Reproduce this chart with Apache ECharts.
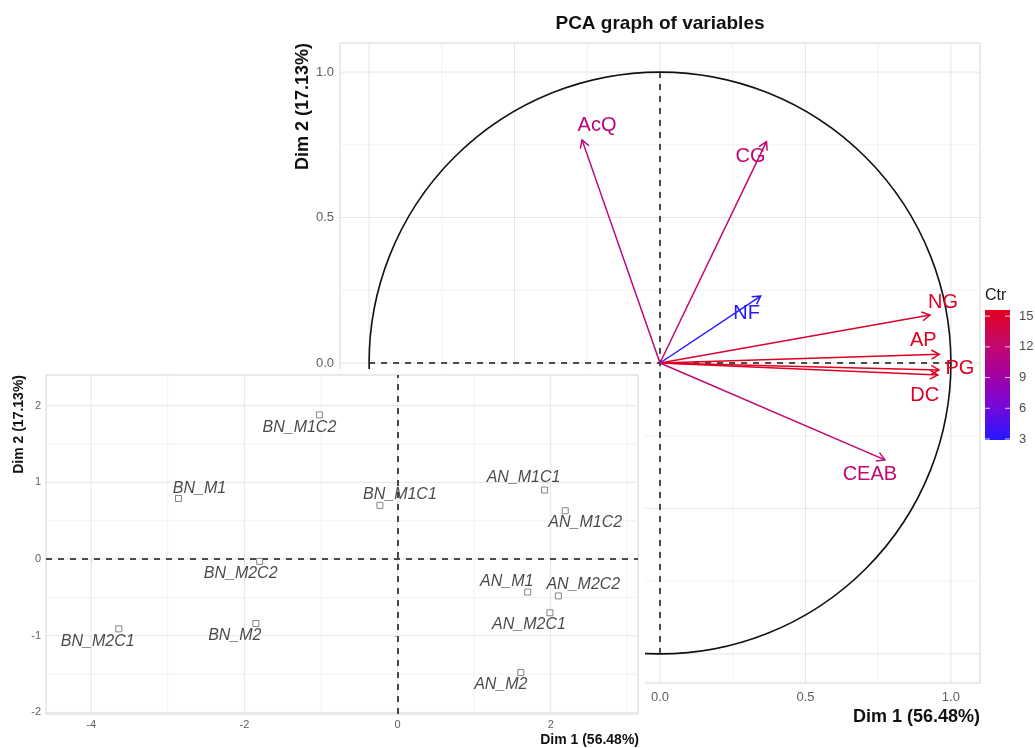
<!DOCTYPE html>
<html>
<head>
<meta charset="utf-8">
<script src="https://cdn.jsdelivr.net/npm/echarts@6.0.0/dist/echarts.min.js"></script>
<style>
  html, body { margin: 0; padding: 0; background: #fff; }
  #chart { width: 1035px; height: 748px; }
</style>
</head>
<body>
<div id="chart"></div>
<script>
// variables (correlation circle)
const varNames = ['AcQ', 'CG', 'NF', 'NG', 'AP', 'PG', 'DC', 'CEAB'];
const varDim1 = [-0.268, 0.366, 0.346, 0.928, 0.960, 0.959, 0.955, 0.773];
const varDim2 = [0.767, 0.761, 0.230, 0.165, 0.030, -0.024, -0.041, -0.333];
const varCtr = [11.2, 12.1, 2.9, 15.0, 15.6, 15.5, 15.4, 12.0];

// individuals (inset)
const indNames = ['BN_M1C2', 'BN_M1', 'BN_M1C1', 'AN_M1C1', 'AN_M1C2', 'BN_M2C2',
  'AN_M1', 'AN_M2C2', 'AN_M2C1', 'BN_M2C1', 'BN_M2', 'AN_M2'];
const indDim1 = [-1.02, -2.86, -0.23, 1.92, 2.19, -1.80, 1.70, 2.10, 1.99, -3.64, -1.85, 1.61];
const indDim2 = [1.88, 0.79, 0.70, 0.90, 0.63, -0.03, -0.43, -0.48, -0.70, -0.91, -0.84, -1.48];

// ticks
const mainTicks = [-1, -0.5, 0, 0.5, 1];
const mainMinor = [-0.75, -0.25, 0.25, 0.75];
const insetXTicks = [-4, -2, 0, 2];
const insetXMinor = [-3, -1, 1, 3];
const insetYTicks = [-2, -1, 0, 1, 2];
const insetYMinor = [-1.5, -0.5, 0.5, 1.5];
const ctrTicks = [3, 6, 9, 12, 15];
const ctrMin = 2.9, ctrMax = 15.6;

// styling (label nudges in px, like ggrepel did)
const varLabelOffset = [[15, -14], [-16, 15], [-14, 17], [13, -13], [-16, -14], [21, -1], [-13, 21], [-15, 15]];
const indLabelOffset = [[-20, 13], [21, -10], [20, -11], [-21, -12], [20, 12], [-19, 12],
  [-21, -11], [25, -11], [-21, 12], [-21, 13], [-21, 12], [-20, 12]];
const ctrColors = ['#2418ff', '#7408dc', '#a400a2', '#c60a68', '#e0001e'];
const FONT = '"Liberation Sans", Arial, sans-serif';

const chart = echarts.init(document.getElementById('chart'));

function gridLines(values, vertical, idx, color, z) {
  return {
    type: 'custom', xAxisIndex: idx, yAxisIndex: idx, z: z, silent: true, clip: false,
    data: values.map(v => vertical ? [v, 0] : [0, v]),
    renderItem: function (params, api) {
      const cs = params.coordSys;
      const p = api.coord([api.value(0), api.value(1)]);
      const shape = vertical
        ? { x1: p[0], y1: cs.y, x2: p[0], y2: cs.y + cs.height }
        : { x1: cs.x, y1: p[1], x2: cs.x + cs.width, y2: p[1] };
      return { type: 'line', shape: shape, style: { stroke: color, lineWidth: 1 } };
    }
  };
}

function renderArrow(params, api) {
  const i = params.dataIndex;
  const o = api.coord([0, 0]);
  const p = api.coord([api.value(0), api.value(1)]);
  const color = api.visual('color');
  const ang = Math.atan2(p[1] - o[1], p[0] - o[0]);
  const h = 9, a = Math.PI / 6;
  const l = [p[0] - h * Math.cos(ang - a), p[1] - h * Math.sin(ang - a)];
  const r = [p[0] - h * Math.cos(ang + a), p[1] - h * Math.sin(ang + a)];
  const off = varLabelOffset[i];
  return {
    type: 'group',
    children: [
      { type: 'line', shape: { x1: o[0], y1: o[1], x2: p[0], y2: p[1] }, style: { stroke: color, lineWidth: 1.5 } },
      { type: 'polyline', shape: { points: [l, p, r] }, style: { stroke: color, fill: null, lineWidth: 1.5 } },
      {
        type: 'text', x: p[0] + off[0], y: p[1] + off[1],
        style: { text: varNames[i], fill: color, fontSize: 20, fontFamily: FONT, align: 'center', verticalAlign: 'middle' }
      }
    ]
  };
}

const axisLbl = (size, margin, fmt) => ({ color: '#606060', fontSize: size, fontFamily: FONT, margin: margin, formatter: fmt });
const fmt1 = v => (+v).toFixed(1);
const fmt0 = v => String(Math.round(v));

// legend (colour bar) built with graphic
const barX = 985, barY = 310, barW = 25, barH = 130;
const yOfCtr = v => barY + barH - (v - ctrMin) / (ctrMax - ctrMin) * barH;
const legendEls = [
  { type: 'text', x: barX, y: 296, style: { text: 'Ctr', fontSize: 16, fontFamily: FONT, fill: '#1a1a1a', verticalAlign: 'middle' } },
  {
    type: 'rect', shape: { x: barX, y: barY, width: barW, height: barH },
    style: {
      fill: {
        type: 'linear', x: 0, y: 1, x2: 0, y2: 0,
        colorStops: ctrColors.map((c, k) => ({ offset: k / (ctrColors.length - 1), color: c }))
      }
    }
  }
];
ctrTicks.forEach(v => {
  const y = yOfCtr(v);
  legendEls.push({ type: 'line', shape: { x1: barX, y1: y, x2: barX + 5, y2: y }, style: { stroke: 'rgba(255,255,255,0.8)', lineWidth: 1 } });
  legendEls.push({ type: 'line', shape: { x1: barX + barW - 5, y1: y, x2: barX + barW, y2: y }, style: { stroke: 'rgba(255,255,255,0.8)', lineWidth: 1 } });
  legendEls.push({ type: 'text', x: barX + barW + 9, y: y, style: { text: String(v), fontSize: 13, fontFamily: FONT, fill: '#4d4d4d', verticalAlign: 'middle' } });
});

const option = {
  animation: false,
  backgroundColor: '#fff',
  grid: [
    { left: 340, top: 43, width: 640, height: 640, show: true, backgroundColor: '#fff', borderColor: '#d4d4d4', borderWidth: 1 },
    { left: 46, top: 375, width: 592, height: 339, show: true, backgroundColor: '#fff', borderColor: '#d4d4d4', borderWidth: 1, z: 21 }
  ],
  xAxis: [
    {
      type: 'value', gridIndex: 0, min: -1.1, max: 1.1,
      axisLine: { show: false }, splitLine: { show: false },
      axisTick: { show: true, length: 4, customValues: mainTicks, lineStyle: { color: '#aaa' } },
      axisLabel: Object.assign(axisLbl(13, 8, fmt1), { customValues: mainTicks })
    },
    {
      type: 'value', gridIndex: 1, min: -4.59, max: 3.14, z: 22,
      axisLine: { show: false }, splitLine: { show: false },
      axisTick: { show: true, length: 3, customValues: insetXTicks, lineStyle: { color: '#aaa' } },
      axisLabel: Object.assign(axisLbl(11, 5, fmt0), { customValues: insetXTicks })
    }
  ],
  yAxis: [
    {
      type: 'value', gridIndex: 0, min: -1.1, max: 1.1,
      axisLine: { show: false }, splitLine: { show: false },
      axisTick: { show: true, length: 4, customValues: mainTicks, lineStyle: { color: '#aaa' } },
      axisLabel: Object.assign(axisLbl(13, 6, fmt1), { customValues: mainTicks })
    },
    {
      type: 'value', gridIndex: 1, min: -2.02, max: 2.4, z: 22,
      axisLine: { show: false }, splitLine: { show: false },
      axisTick: { show: true, length: 3, customValues: insetYTicks, lineStyle: { color: '#aaa' } },
      axisLabel: Object.assign(axisLbl(11, 5, fmt0), { customValues: insetYTicks })
    }
  ],
  visualMap: {
    type: 'continuous', show: false, seriesIndex: 6, dimension: 2,
    min: ctrMin, max: ctrMax, inRange: { color: ctrColors }
  },
  graphic: {
    elements: [
      {
        type: 'text', x: 660, y: 24,
        style: { text: 'PCA graph of variables', fontSize: 19, fontWeight: 'bold', fontFamily: FONT, fill: '#111', align: 'center', verticalAlign: 'middle' }
      },
      {
        type: 'text', x: 980, y: 717,
        style: { text: 'Dim 1 (56.48%)', fontSize: 18, fontWeight: 'bold', fontFamily: FONT, fill: '#111', align: 'right', verticalAlign: 'middle' }
      },
      {
        type: 'text', x: 303, y: 43, rotation: Math.PI / 2,
        style: { text: 'Dim 2 (17.13%)', fontSize: 18, fontWeight: 'bold', fontFamily: FONT, fill: '#111', align: 'right', verticalAlign: 'middle' }
      },
      { type: 'group', children: legendEls },
      // white card behind the inset
      { type: 'rect', z: 20, shape: { x: 0, y: 369, width: 645, height: 379 }, style: { fill: '#fff' } },
      {
        type: 'text', z: 30, x: 639, y: 740,
        style: { text: 'Dim 1 (56.48%)', fontSize: 14, fontWeight: 'bold', fontFamily: FONT, fill: '#111', align: 'right', verticalAlign: 'middle' }
      },
      {
        type: 'text', z: 30, x: 19, y: 375, rotation: Math.PI / 2,
        style: { text: 'Dim 2 (17.13%)', fontSize: 14, fontWeight: 'bold', fontFamily: FONT, fill: '#111', align: 'right', verticalAlign: 'middle' }
      }
    ]
  },
  series: [
    // 0-3 main grid lines
    gridLines(mainMinor, true, 0, '#f2f2f2', 1),
    gridLines(mainMinor, false, 0, '#f2f2f2', 1),
    gridLines(mainTicks, true, 0, '#e6e6e6', 1),
    gridLines(mainTicks, false, 0, '#e6e6e6', 1),
    // 4 unit circle
    {
      type: 'custom', xAxisIndex: 0, yAxisIndex: 0, z: 2, silent: true, clip: false,
      data: [[0, 0, 1]],
      renderItem: function (params, api) {
        const c = api.coord([api.value(0), api.value(1)]);
        const r = api.size([api.value(2), api.value(2)]);
        return { type: 'circle', shape: { cx: c[0], cy: c[1], r: (r[0] + r[1]) / 2 }, style: { stroke: '#111', fill: null, lineWidth: 1.6 } };
      }
    },
    // 5 dashed axes inside the circle
    {
      type: 'custom', xAxisIndex: 0, yAxisIndex: 0, z: 2, silent: true, clip: false,
      data: [[-1, 0, 1, 0], [0, -1, 0, 1]],
      renderItem: function (params, api) {
        const a = api.coord([api.value(0), api.value(1)]);
        const b = api.coord([api.value(2), api.value(3)]);
        return { type: 'line', shape: { x1: a[0], y1: a[1], x2: b[0], y2: b[1] }, style: { stroke: '#222', lineWidth: 1.6, lineDash: [6, 6] } };
      }
    },
    // 6 variable arrows
    {
      type: 'custom', xAxisIndex: 0, yAxisIndex: 0, z: 3, silent: true, clip: false,
      data: varDim1.map((x, i) => [x, varDim2[i], varCtr[i]]),
      renderItem: renderArrow
    },
    // 7-10 inset grid lines
    gridLines(insetXMinor, true, 1, '#f2f2f2', 23),
    gridLines(insetYMinor, false, 1, '#f2f2f2', 23),
    gridLines(insetXTicks, true, 1, '#e6e6e6', 23),
    gridLines(insetYTicks, false, 1, '#e6e6e6', 23),
    // 11 individuals
    {
      type: 'scatter', xAxisIndex: 1, yAxisIndex: 1, z: 25, silent: true,
      symbol: 'rect', symbolSize: 6,
      itemStyle: { color: '#fff', borderColor: '#666', borderWidth: 1 },
      data: indNames.map((n, i) => ({
        name: n, value: [indDim1[i], indDim2[i]],
        label: { offset: indLabelOffset[i] }
      })),
      label: {
        show: true, position: 'inside', formatter: '{b}',
        color: '#1a1a1a', fontSize: 16, fontStyle: 'italic', fontFamily: FONT
      },
      markLine: {
        silent: true, z: 24, symbol: ['none', 'none'], label: { show: false },
        lineStyle: { color: '#222', width: 1.6, type: [6, 6] },
        data: [{ xAxis: 0 }, { yAxis: 0 }]
      }
    }
  ]
};

chart.setOption(option);
</script>
</body>
</html>
